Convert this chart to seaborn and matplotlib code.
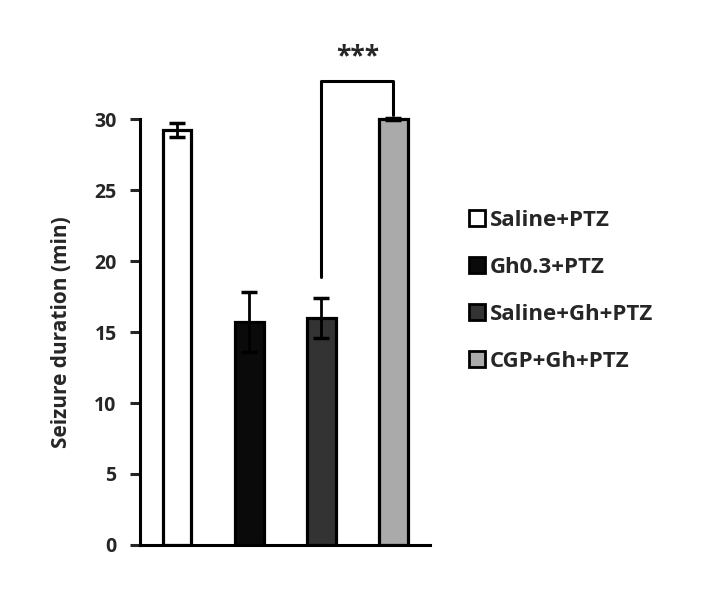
import matplotlib
matplotlib.use("Agg")
import matplotlib.pyplot as plt
import seaborn as sns
import pandas as pd
from matplotlib.lines import Line2D

groups = ["Saline+PTZ", "Gh0.3+PTZ", "Saline+Gh+PTZ", "CGP+Gh+PTZ"]
duration = [29.2, 15.7, 16.0, 30.0]
sem = [0.5, 2.1, 1.4, 0.05]
colors = ["#ffffff", "#0a0a0a", "#333333", "#aaaaaa"]
yticks = [0, 5, 10, 15, 20, 25, 30]

df = pd.DataFrame({"group": groups, "duration": duration})

sns.set_style("white")
plt.rcParams["font.family"] = ["Open Sans", "DejaVu Sans"]

fig = plt.figure(figsize=(7.23, 5.92), dpi=100)
ax = fig.add_axes([0.194, 0.0794, 0.401, 0.8035])

sns.barplot(data=df, x="group", y="duration", hue="group", palette=colors,
            order=groups, hue_order=groups, width=0.4, edgecolor="black",
            linewidth=2.3, legend=False, ax=ax, errorbar=None)
ax.errorbar(range(len(groups)), duration, yerr=sem, fmt="none", ecolor="black",
            elinewidth=2, capsize=5.5, capthick=2.5, zorder=5)

ax.set_xlim(-0.51, 3.51)
ax.set_ylim(0, 33.5)
ax.set_yticks(yticks)
ax.set_yticklabels([str(t) for t in yticks], fontsize=14, fontweight="bold")
ax.set_xticks([])
ax.set_xlabel("")
ax.set_ylabel("Seizure duration (min)", fontsize=15, fontweight="bold")
ax.yaxis.set_label_coords(-0.234, 15 / 33.5)
for s in ["top", "right"]:
    ax.spines[s].set_visible(False)
ax.spines["left"].set_bounds(0, 30)
for s in ["left", "bottom"]:
    ax.spines[s].set_linewidth(2.2)
    ax.spines[s].set_color("black")
ax.tick_params(axis="y", direction="out", length=7, width=2.2, left=True, pad=10)

# significance bracket
ax.plot([2, 2, 3, 3], [18.9, 32.7, 32.7, 30.3], color="black", lw=2.2, clip_on=False)
ax.text(2.5, 34.4, "***", ha="center", va="center", fontsize=19, fontweight="bold")

handles = [Line2D([], [], marker="s", linestyle="none", markersize=11.5,
                  markerfacecolor=c, markeredgecolor="black", markeredgewidth=2)
           for c in colors]
fig.legend(handles, groups, loc="upper left", bbox_to_anchor=(0.622, 0.679),
           frameon=False, prop={"size": 16, "weight": "bold"},
           labelspacing=1.17, handlelength=0.7, handletextpad=0.2)

fig.savefig("out.png", dpi=100)
